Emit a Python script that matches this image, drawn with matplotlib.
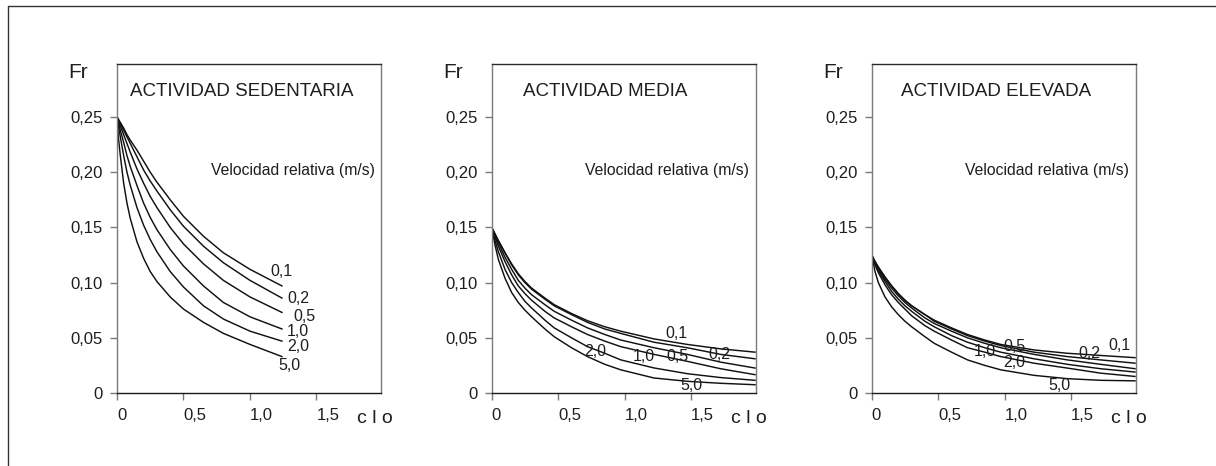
import matplotlib
matplotlib.use("Agg")
import matplotlib.pyplot as plt
from matplotlib.lines import Line2D

# Velocity labels (m/s) shared by the three panels
velocidades = ["0,1", "0,2", "0,5", "1,0", "2,0", "5,0"]

# Actividad sedentaria: Fr versus clo
sed_clo = [0, 0.01, 0.025, 0.05, 0.075, 0.1, 0.15, 0.2, 0.25, 0.3, 0.4, 0.5, 0.65, 0.8, 1.0, 1.24]
sed_fr = [
    [0.250, 0.248, 0.245, 0.240, 0.234, 0.229, 0.220, 0.210, 0.200, 0.191, 0.175, 0.160, 0.142, 0.127, 0.112, 0.097],
    [0.250, 0.248, 0.244, 0.238, 0.232, 0.226, 0.214, 0.202, 0.192, 0.183, 0.166, 0.151, 0.133, 0.118, 0.102, 0.086],
    [0.250, 0.247, 0.242, 0.234, 0.226, 0.218, 0.203, 0.190, 0.178, 0.168, 0.150, 0.135, 0.117, 0.102, 0.087, 0.073],
    [0.250, 0.245, 0.238, 0.227, 0.215, 0.205, 0.188, 0.172, 0.159, 0.148, 0.130, 0.115, 0.097, 0.082, 0.069, 0.058],
    [0.250, 0.242, 0.232, 0.215, 0.200, 0.188, 0.168, 0.152, 0.139, 0.128, 0.110, 0.096, 0.079, 0.067, 0.056, 0.047],
    [0.250, 0.232, 0.215, 0.190, 0.172, 0.158, 0.137, 0.122, 0.110, 0.101, 0.087, 0.076, 0.064, 0.054, 0.044, 0.033],
]

# Actividad media
med_clo = [0, 0.025, 0.05, 0.1, 0.15, 0.2, 0.25, 0.3, 0.4, 0.47, 0.6, 0.72, 0.85, 0.97, 1.22, 1.47, 1.72, 1.98]
med_fr = [
    [0.150, 0.144, 0.138, 0.127, 0.117, 0.108, 0.101, 0.095, 0.086, 0.080, 0.072, 0.0655, 0.060, 0.056, 0.049, 0.044, 0.040, 0.037],
    [0.150, 0.144, 0.138, 0.127, 0.116, 0.107, 0.100, 0.094, 0.085, 0.079, 0.071, 0.064, 0.058, 0.054, 0.046, 0.041, 0.035, 0.031],
    [0.150, 0.143, 0.136, 0.123, 0.112, 0.102, 0.095, 0.089, 0.080, 0.074, 0.066, 0.059, 0.053, 0.048, 0.041, 0.035, 0.028, 0.0226],
    [0.150, 0.141, 0.133, 0.119, 0.107, 0.097, 0.090, 0.084, 0.074, 0.068, 0.060, 0.053, 0.047, 0.042, 0.035, 0.0287, 0.022, 0.0166],
    [0.150, 0.138, 0.128, 0.112, 0.100, 0.091, 0.083, 0.077, 0.066, 0.059, 0.050, 0.042, 0.036, 0.030, 0.0227, 0.0175, 0.014, 0.0115],
    [0.150, 0.134, 0.121, 0.104, 0.091, 0.082, 0.075, 0.069, 0.058, 0.051, 0.041, 0.033, 0.026, 0.021, 0.0136, 0.0106, 0.0088, 0.0075],
]

# Actividad elevada
ele_clo = [0, 0.025, 0.05, 0.1, 0.15, 0.2, 0.25, 0.3, 0.4, 0.47, 0.6, 0.72, 0.85, 0.97, 1.22, 1.47, 1.72, 1.98]
ele_fr = [
    [0.125, 0.119, 0.114, 0.105, 0.097, 0.090, 0.084, 0.079, 0.071, 0.066, 0.059, 0.053, 0.048, 0.044, 0.039, 0.036, 0.034, 0.032],
    [0.125, 0.119, 0.114, 0.105, 0.097, 0.090, 0.084, 0.079, 0.071, 0.065, 0.058, 0.052, 0.047, 0.043, 0.037, 0.033, 0.030, 0.027],
    [0.125, 0.118, 0.112, 0.103, 0.095, 0.088, 0.082, 0.077, 0.068, 0.063, 0.056, 0.050, 0.045, 0.041, 0.035, 0.030, 0.026, 0.022],
    [0.125, 0.117, 0.111, 0.101, 0.092, 0.085, 0.079, 0.074, 0.065, 0.060, 0.052, 0.046, 0.041, 0.037, 0.031, 0.026, 0.022, 0.019],
    [0.125, 0.116, 0.109, 0.098, 0.089, 0.082, 0.076, 0.070, 0.061, 0.056, 0.048, 0.041, 0.037, 0.033, 0.027, 0.0226, 0.018, 0.015],
    [0.125, 0.110, 0.100, 0.087, 0.078, 0.071, 0.065, 0.060, 0.051, 0.045, 0.037, 0.030, 0.025, 0.021, 0.016, 0.013, 0.0115, 0.011],
]

titulos = ["ACTIVIDAD SEDENTARIA", "ACTIVIDAD MEDIA", "ACTIVIDAD ELEVADA"]

x_ticks = [0, 0.5, 1.0, 1.5]
x_ticklabels = ["0", "0,5", "1,0", "1,5"]
y_ticks = [0, 0.05, 0.10, 0.15, 0.20, 0.25]
y_ticklabels = ["0", "0,05", "0,10", "0,15", "0,20", "0,25"]

# Where each velocity label sits (data coordinates) in each panel
etiquetas_pos = [
    [(1.235, 0.110), (1.36, 0.086), (1.41, 0.069), (1.36, 0.056), (1.36, 0.042), (1.30, 0.025)],
    [(1.39, 0.054), (1.71, 0.035), (1.40, 0.033), (1.14, 0.033), (0.775, 0.038), (1.50, 0.007)],
    [(1.86, 0.043), (1.64, 0.036), (1.075, 0.042), (0.85, 0.038), (1.07, 0.028), (1.41, 0.0066)],
]

FONT = ["Liberation Sans", "DejaVu Sans"]
plt.rcParams["font.family"] = FONT
TXT = "#1e1e1e"
GRAY = "#7a7a7a"

fig = plt.figure(figsize=(12.16, 4.66), dpi=100)

# Outer frame (open at right and bottom)
fig.add_artist(Line2D([8 / 1216, 8 / 1216, 1.01], [-0.01, 1 - 6 / 466, 1 - 6 / 466],
                      transform=fig.transFigure, color="#333333", lw=1.0, clip_on=False))

lefts = [117 / 1216, 491.7 / 1216, 871.7 / 1216]
bottom = (466 - 393) / 466
width = 264 / 1216
height = 329 / 466

datasets = [(sed_clo, sed_fr), (med_clo, med_fr), (ele_clo, ele_fr)]
title_x = [0.05, 0.12, 0.11]

for i, (clo, fr) in enumerate(datasets):
    ax = fig.add_axes([lefts[i], bottom, width, height])
    for curve in fr:
        ax.plot(clo, curve, color="#111111", lw=1.05, solid_joinstyle="round")
    for lab, (lx, ly) in zip(velocidades, etiquetas_pos[i]):
        ax.text(lx, ly, lab, fontsize=11.5, color=TXT, ha="center", va="center")

    ax.set_xlim(0, 1.985)
    ax.set_ylim(0, 0.298)
    ax.set_xticks(x_ticks)
    ax.set_xticklabels(x_ticklabels, ha="left")
    ax.set_yticks(y_ticks)
    ax.set_yticklabels(y_ticklabels)
    ax.tick_params(axis="both", direction="out", length=5, width=1.0, color=GRAY,
                   labelsize=12, labelcolor=TXT)
    ax.tick_params(axis="x", pad=6)
    ax.tick_params(axis="y", pad=5)
    ax.spines["left"].set_color(GRAY)
    ax.spines["right"].set_color(GRAY)
    ax.spines["top"].set_color("#2a2a2a")
    ax.spines["bottom"].set_color("#1a1a1a")
    for s in ax.spines.values():
        s.set_linewidth(1.0)

    ax.text(title_x[i], 0.915, titulos[i], transform=ax.transAxes,
            fontsize=13.5, color=TXT, ha="left", va="center")
    ax.text(0.975, 0.675, "Velocidad relativa (m/s)", transform=ax.transAxes,
            fontsize=11.3, color=TXT, ha="right", va="center")
    ax.text(-0.148, 0.975, "Fr", transform=ax.transAxes, fontsize=15,
            color=TXT, ha="center", va="center")
    ax.text(0.975, -0.078, "c l o", transform=ax.transAxes, fontsize=14,
            color=TXT, ha="center", va="center")

fig.savefig("out.png", dpi=100)
